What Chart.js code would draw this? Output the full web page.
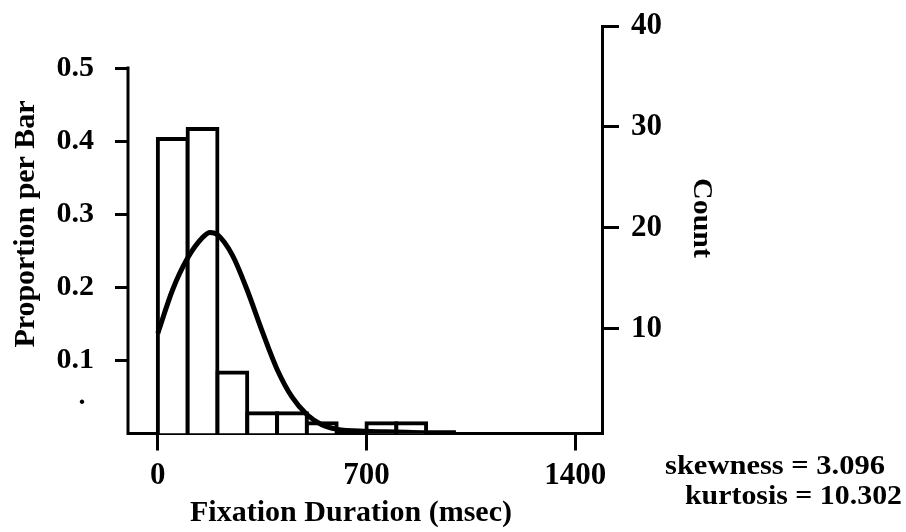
<!DOCTYPE html>
<html>
<head>
<meta charset="utf-8">
<script src="https://cdn.jsdelivr.net/npm/chart.js@4.4.1/dist/chart.umd.min.js"></script>
<style>
html,body{margin:0;padding:0;background:#fff;}
#wrap{width:906px;height:532px;}
</style>
</head>
<body>
<div id="wrap"><canvas id="c" width="906" height="532"></canvas></div>
<script>
// ---- data ----
const binStarts = [0, 100, 200, 300, 400, 500, 600, 700, 800];
const binWidth = 100;
const counts = [29, 30, 6, 2, 2, 1, 0, 1, 1];
const totalCount = 72;
const curveX = [0, 50, 100, 150, 175, 200, 250, 300, 350, 400, 450, 500, 550, 600, 700, 800, 900, 1000];
const curveY = [0.137, 0.197, 0.240, 0.268, 0.275, 0.272, 0.244, 0.196, 0.140, 0.088, 0.050, 0.026, 0.012, 0.006, 0.003, 0.002, 0.001, 0.001];
const xTicks = [0, 700, 1400];
const propTicks = [0.1, 0.2, 0.3, 0.4, 0.5];
const countTicks = [10, 20, 30, 40];
const xTitle = 'Fixation Duration (msec)';
const yPropTitle = 'Proportion per Bar';
const yCountTitle = 'Count';
const statLines = ['skewness = 3.096', 'kurtosis = 10.302'];

// ---- chart ----
const FONT = 'Liberation Serif';
const WEIGHT = 'bold';
const barData = binStarts.map((s, i) => ({ x: s + binWidth / 2, y: counts[i] / totalCount }));
const curveData = curveX.map((x, i) => ({ x: x, y: curveY[i] }));

function fitText(ctx, text, x, y, rot, size, width, align) {
  ctx.save();
  ctx.translate(x, y);
  ctx.rotate(rot);
  ctx.font = WEIGHT + ' ' + size + 'px "' + FONT + '"';
  const w = ctx.measureText(text).width;
  ctx.scale(width / w, 1);
  ctx.textAlign = align;
  ctx.textBaseline = 'alphabetic';
  ctx.fillStyle = '#000';
  ctx.fillText(text, 0, 0);
  ctx.restore();
}

function noPad(s) {
  s.paddingTop = 0; s.paddingBottom = 0; s.paddingLeft = 0; s.paddingRight = 0;
}

const decor = {
  id: 'decor',
  afterDraw(chart) {
    const ctx = chart.ctx;
    const area = chart.chartArea;
    const yp = chart.scales.yProp;
    // partial left axis line (from 0.5 down to baseline)
    ctx.save();
    ctx.strokeStyle = '#000';
    ctx.lineWidth = 3;
    ctx.lineCap = 'butt';
    ctx.beginPath();
    ctx.moveTo(area.left, yp.getPixelForValue(propTicks[propTicks.length - 1]) - 1.5);
    ctx.lineTo(area.left, area.bottom + 1.5);
    ctx.stroke();
    ctx.restore();
    // axis titles
    fitText(ctx, yPropTitle, 33.5, 224, -Math.PI / 2, 29, 247, 'center');
    fitText(ctx, yCountTitle, 693.5, 218, Math.PI / 2, 28, 80, 'center');
    fitText(ctx, xTitle, 351, 521, 0, 30, 322, 'center');
    // statistics
    fitText(ctx, statLines[0], 885, 474, 0, 28, 220, 'right');
    fitText(ctx, statLines[1], 902, 504, 0, 28, 217, 'right');
    // stray dot in the scan
    ctx.save();
    ctx.fillStyle = '#000';
    ctx.font = 'bold 28px "' + FONT + '"';
    ctx.textAlign = 'center';
    ctx.fillText('.', 82, 404);
    ctx.restore();
  }
};

new Chart(document.getElementById('c'), {
  type: 'bar',
  data: {
    datasets: [
      {
        type: 'line', data: curveData, yAxisID: 'yProp', xAxisID: 'x',
        borderColor: '#000', borderWidth: 5, pointRadius: 0,
        cubicInterpolationMode: 'monotone', fill: false, order: 0
      },
      {
        type: 'bar', data: barData, yAxisID: 'yProp', xAxisID: 'x',
        backgroundColor: '#fff', borderColor: '#000', borderWidth: 4, inflateAmount: 2,
        barPercentage: 1, categoryPercentage: 1, order: 1
      }
    ]
  },
  options: {
    responsive: false, animation: false, devicePixelRatio: 1,
    layout: { padding: { top: 26, left: 0, right: 187, bottom: 0 } },
    plugins: { legend: { display: false }, tooltip: { enabled: false } },
    scales: {
      x: {
        type: 'linear', position: 'bottom', min: -100, max: 1490, offset: false,
        afterBuildTicks: s => { s.ticks = xTicks.map(v => ({ value: v })); },
        grid: { drawOnChartArea: false, drawTicks: true, tickLength: 17, color: '#000', tickColor: '#000', tickWidth: 3, lineWidth: 3, offset: false },
        border: { display: true, color: '#000', width: 3 },
        ticks: { color: '#000', font: { family: FONT, size: 31, weight: WEIGHT }, padding: 7, maxRotation: 0, autoSkip: false, callback: v => String(v) },
        afterFit: s => { s.height = 98.5; noPad(s); }
      },
      yProp: {
        type: 'linear', position: 'left', min: 0, max: 0.5575,
        afterBuildTicks: s => { s.ticks = propTicks.map(v => ({ value: v })); },
        grid: { drawOnChartArea: false, drawTicks: true, tickLength: 13, color: '#000', tickColor: '#000', tickWidth: 3, lineWidth: 3 },
        border: { display: false },
        ticks: { color: '#000', font: { family: FONT, size: 30, weight: WEIGHT }, padding: 21, autoSkip: false, callback: v => v.toFixed(1) },
        afterFit: s => { s.width = 128; noPad(s); }
      },
      yCount: {
        type: 'linear', position: 'right', min: -0.35, max: 40,
        afterBuildTicks: s => { s.ticks = countTicks.map(v => ({ value: v })); },
        grid: { drawOnChartArea: false, drawTicks: true, tickLength: 17, color: '#000', tickColor: '#000', tickWidth: 3, lineWidth: 3 },
        border: { display: true, color: '#000', width: 3 },
        ticks: { color: '#000', font: { family: FONT, size: 31, weight: WEIGHT }, padding: 12, autoSkip: false, callback: v => String(v) },
        afterFit: s => { s.width = 117; noPad(s); }
      }
    }
  },
  plugins: [decor]
});
</script>
</body>
</html>
